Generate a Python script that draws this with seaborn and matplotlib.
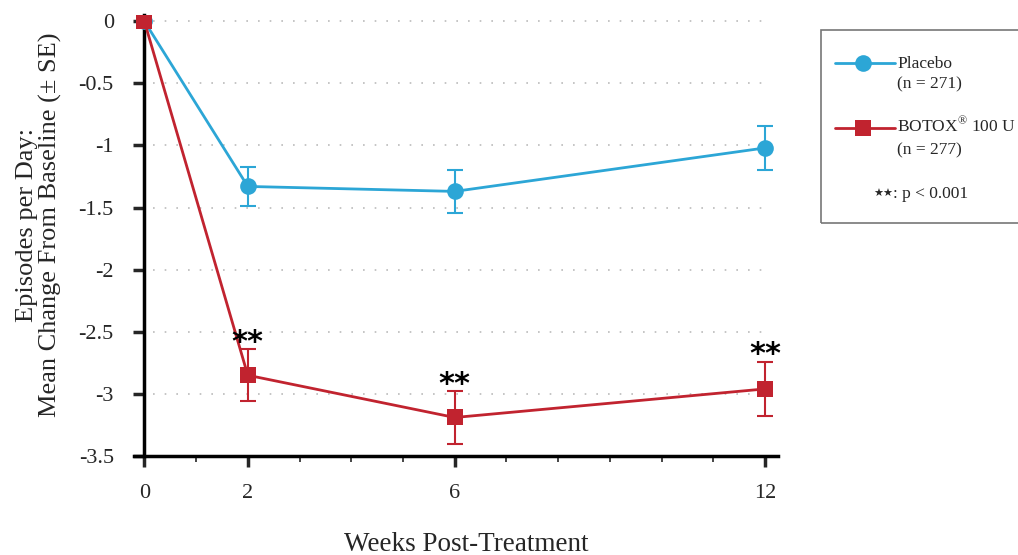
import matplotlib
matplotlib.use("Agg")
import matplotlib.pyplot as plt
import seaborn as sns
import pandas as pd
import numpy as np
from matplotlib.lines import Line2D
from matplotlib.patches import Rectangle

# ---- data ----
weeks = [0, 2, 6, 12]
placebo_mean = [0.0, -1.33, -1.37, -1.02]
placebo_se = [0.0, 0.16, 0.17, 0.18]
botox_mean = [0.0, -2.85, -3.19, -2.96]
botox_se = [0.0, 0.21, 0.21, 0.22]
groups = ["Placebo", "BOTOX"]
legend_names = ["Placebo", "BOTOX$^{\\mathregular{\u00ae}}$ 100 U"]
legend_ns = ["(n = 271)", "(n = 277)"]
x_ticks = [0, 2, 6, 12]
y_ticks = [0, -0.5, -1, -1.5, -2, -2.5, -3, -3.5]
y_ticklabels = ["0", "-0.5", "-1", "-1.5", "-2", "-2.5", "-3", "-3.5"]
sig_weeks = [2, 6, 12]

c_placebo = "#2CA6D6"
c_botox = "#C1232F"

sns.set_style("white")
plt.rcParams["font.family"] = ["Liberation Serif", "DejaVu Serif"]
plt.rcParams["axes.unicode_minus"] = False

df = pd.DataFrame({
    "week": weeks * 2,
    "mean": placebo_mean + botox_mean,
    "group": [groups[0]] * len(weeks) + [groups[1]] * len(weeks),
})

W, H = 1018, 555
fig = plt.figure(figsize=(W / 100, H / 100), dpi=100)
ax = fig.add_axes([134 / W, 1 - 456 / H, (778 - 134) / W, (456 - 15) / H])

# grid
for yv in y_ticks[:-1]:
    ax.axhline(yv, color="#BBBBBB", lw=1.2, ls=(0, (1, 6)), zorder=0,
               xmin=0.03, xmax=0.98)

# error bars
ax.errorbar(weeks[1:], placebo_mean[1:], yerr=placebo_se[1:], fmt="none",
            ecolor=c_placebo, elinewidth=1.5, capsize=6, capthick=1.5, zorder=2)
ax.errorbar(weeks[1:], botox_mean[1:], yerr=botox_se[1:], fmt="none",
            ecolor=c_botox, elinewidth=1.5, capsize=6, capthick=1.5, zorder=2)

sns.lineplot(data=df, x="week", y="mean", hue="group", style="group",
             palette={groups[0]: c_placebo, groups[1]: c_botox},
             markers={groups[0]: "o", groups[1]: "s"}, dashes=False,
             markersize=12, linewidth=2, markeredgewidth=0, ax=ax,
             legend=False, zorder=3)

# significance stars
for w in sig_weeks:
    i = weeks.index(w)
    ax.annotate("**", (w, botox_mean[i] + botox_se[i]), xytext=(0, 5),
                textcoords="offset points", ha="center", va="center",
                fontsize=22, fontweight="bold", family="DejaVu Sans", color="black")

ax.set_xlim(-0.2, 12.25)
ax.set_ylim(-3.5, 0.05)
ax.set_xticks(x_ticks)
ax.set_xticks(range(1, 12), minor=True)
ax.set_yticks(y_ticks)
ax.set_yticklabels(y_ticklabels)

for s in ["top", "right"]:
    ax.spines[s].set_visible(False)
ax.spines["left"].set_position(("data", 0))
ax.spines["left"].set_linewidth(2.5)
ax.spines["bottom"].set_linewidth(2.5)
ax.spines["left"].set_color("black")
ax.spines["bottom"].set_color("black")

ax.tick_params(axis="y", which="major", direction="out", length=8, width=2.5,
               labelsize=16, pad=14, left=True)
ax.tick_params(axis="x", which="major", direction="out", length=8, width=2.5,
               labelsize=16, pad=12, bottom=True)
ax.tick_params(axis="x", which="minor", direction="out", length=4, width=1.2,
               bottom=True)

ax.set_xlabel("Weeks Post-Treatment", fontsize=19.5)
ax.xaxis.set_label_coords(0.516, -0.172)
ax.set_ylabel("Episodes per Day:\nMean Change From Baseline (\u00b1 SE)",
              fontsize=19, linespacing=1.05)
ax.yaxis.set_label_coords(-0.112, 0.524)

# legend box (manual layout)
fig.patches.append(Rectangle((821 / W, 1 - 223 / H), 0.25, 193 / H,
                             transform=fig.transFigure, fill=False,
                             edgecolor="#777777", lw=1.2, clip_on=False))
handle_y = [63, 128]
name_base = [68, 133]
n_base = [88, 154]
colors = [c_placebo, c_botox]
mk = ["o", "s"]
msz = [12, 11]
for k in range(2):
    fy = 1 - handle_y[k] / H
    fig.add_artist(Line2D([835 / W, 895 / W], [fy, fy], transform=fig.transFigure,
                          color=colors[k], lw=2))
    fig.add_artist(Line2D([863 / W], [fy], transform=fig.transFigure,
                          color=colors[k], marker=mk[k], markersize=msz[k],
                          markeredgewidth=0, lw=0))
    fig.text(897 / W, 1 - name_base[k] / H, legend_names[k], fontsize=12.5,
             va="baseline", ha="left")
    fig.text(897 / W, 1 - n_base[k] / H, legend_ns[k], fontsize=12.5,
             va="baseline", ha="left")
fig.text(873 / W, 1 - 194 / H, "\u2605\u2605", fontsize=8, va="center",
         ha="left", family="DejaVu Sans")
fig.text(893 / W, 1 - 198 / H, ": p < 0.001", fontsize=12.5, va="baseline",
         ha="left")

fig.savefig("out.png", dpi=100)
